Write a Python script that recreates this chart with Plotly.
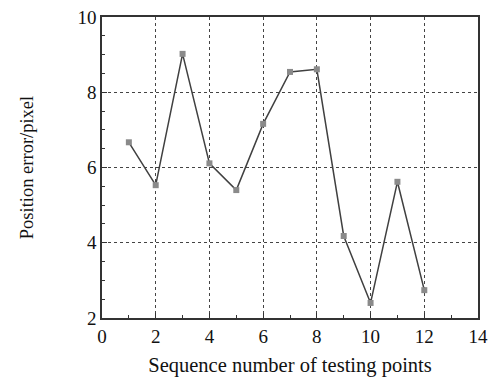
import plotly.graph_objects as go

seq = [1, 2, 3, 4, 5, 6, 7, 8, 9, 10, 11, 12]
err = [6.67, 5.53, 9.02, 6.11, 5.40, 7.16, 8.54, 8.61, 4.18, 2.40, 5.62, 2.74]
x_ticks = [0, 2, 4, 6, 8, 10, 12, 14]
y_ticks = [2, 4, 6, 8, 10]

fig = go.Figure()
fig.add_trace(go.Scatter(
    x=seq, y=err, mode="lines+markers",
    line=dict(color="#404040", width=1.5),
    marker=dict(symbol="square", size=6, color="#8a8a8a", line=dict(width=0)),
    cliponaxis=False,
))

serif = "Liberation Serif, Times New Roman, serif"
tick_font = dict(family=serif, size=19, color="#111")
axis_common = dict(
    showline=True, linecolor="#333", linewidth=1.5, mirror=True,
    ticks="inside", ticklen=5, tickcolor="#333",
    showgrid=True, gridcolor="#444", griddash="dot", gridwidth=1,
    zeroline=False, tickfont=tick_font, automargin=False,
    ticklabeloverflow="allow",
    minor=dict(ticks="inside", ticklen=3, tickcolor="#333", showgrid=False),
)
fig.update_xaxes(range=[0, 14], tickvals=x_ticks, dtick=2,
                 title=dict(text="Sequence number of testing points",
                            font=dict(family=serif, size=20.5, color="#111"), standoff=12),
                 **axis_common)
fig.update_yaxes(range=[2, 10], tickvals=y_ticks, dtick=2,
                 title=dict(text="Position error/pixel",
                            font=dict(family=serif, size=18.5, color="#111"), standoff=39),
                 **axis_common)
# page body adds an 8px margin, so the figure is sized and offset to compensate
fig.update_layout(
    width=495, height=372,
    margin=dict(l=94, r=25, t=9, b=62),
    paper_bgcolor="white", plot_bgcolor="white",
    showlegend=False, font=tick_font,
)
fig.write_html("out.html")
